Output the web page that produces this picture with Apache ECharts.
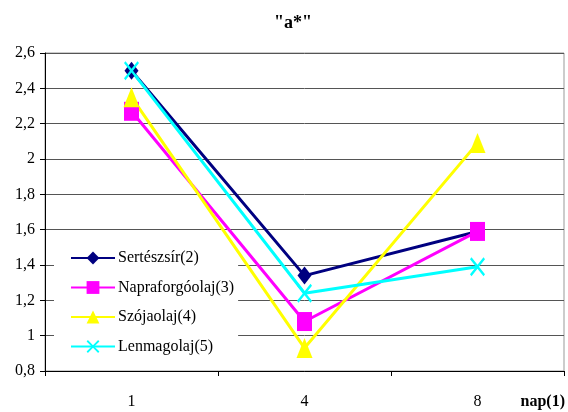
<!DOCTYPE html>
<html>
<head>
<meta charset="utf-8">
<script src="https://cdn.jsdelivr.net/npm/echarts@6/dist/echarts.min.js"></script>
<style>
html,body{margin:0;padding:0;background:#fff;}
#chart{width:568px;height:412px;}
</style>
</head>
<body>
<div id="chart"></div>
<script>
var titleText = '"a*"';
var categories = ['1', '4', '8'];
var xAxisName = 'nap(1)';
var seriesNames = ['Sertészsír(2)', 'Napraforgóolaj(3)', 'Szójaolaj(4)', 'Lenmagolaj(5)'];
var sertesszsir = [2.50, 1.34, 1.59];
var napraforgoolaj = [2.27, 1.08, 1.59];
var szojaolaj = [2.35, 0.93, 2.09];
var lenmagolaj = [2.50, 1.24, 1.39];
var yMin = 0.8, yMax = 2.6, yStep = 0.2;

var FONT = 'Liberation Serif';
var crossPath = 'path://M0,1L1,0L5,4L9,0L10,1L6,5L10,9L9,10L5,6L1,10L0,9L4,5Z';

function mk(name, data, color, symbol, size) {
  return {
    name: name,
    type: 'line',
    data: data,
    symbol: symbol,
    symbolSize: size,
    showAllSymbol: true,
    z: 3,
    lineStyle: { color: color, width: 3 },
    itemStyle: { color: color, borderWidth: 0 },
    emphasis: { disabled: true },
    animation: false
  };
}

var chart = echarts.init(document.getElementById('chart'), null, { renderer: 'canvas' });
chart.setOption({
  backgroundColor: '#fff',
  animation: false,
  title: {
    text: titleText,
    left: 274,
    top: 14,
    padding: 0,
    textStyle: { fontFamily: FONT, fontSize: 18, fontWeight: 'bold', color: '#000' }
  },
  grid: {
    left: 45, right: 2, top: 53, bottom: 41,
    show: true, borderColor: '#999', borderWidth: 1, backgroundColor: 'transparent'
  },
  legend: {
    orient: 'vertical',
    left: 54,
    top: 242,
    z: 1,
    padding: [8, 4, 8, 16],
    backgroundColor: '#fff',
    itemWidth: 44,
    itemHeight: 16,
    itemGap: 13.5,
    textStyle: { fontFamily: FONT, fontSize: 16, color: '#000', padding: [0, 0, 0, -2] },
    data: seriesNames
  },
  xAxis: {
    type: 'category',
    data: categories,
    boundaryGap: true,
    name: xAxisName,
    nameLocation: 'end',
    nameGap: 1,
    nameTextStyle: { fontFamily: FONT, fontSize: 16, fontWeight: 'bold', color: '#000', align: 'right', verticalAlign: 'top', padding: [23, 0, 0, 0] },
    axisLine: { lineStyle: { color: '#000', width: 1 } },
    axisTick: { show: true, length: 5, lineStyle: { color: '#000' } },
    axisLabel: { fontFamily: FONT, fontSize: 16, color: '#000', margin: 23 },
    splitLine: { show: false }
  },
  yAxis: {
    type: 'value',
    min: yMin, max: yMax, interval: yStep,
    axisLine: { show: true, lineStyle: { color: '#000', width: 1 } },
    axisTick: { show: true, length: 5, lineStyle: { color: '#000' } },
    axisLabel: {
      fontFamily: FONT, fontSize: 16, color: '#000', margin: 10,
      formatter: function (v) { return String(Math.round(v * 10) / 10).replace('.', ','); }
    },
    splitLine: { show: true, lineStyle: { color: '#555', width: 1 } }
  },
  series: [
    mk(seriesNames[0], sertesszsir, '#000080', 'diamond', [14, 18]),
    mk(seriesNames[1], napraforgoolaj, '#FF00FF', 'rect', [15, 19]),
    mk(seriesNames[2], szojaolaj, '#FFFF00', 'triangle', [16, 20]),
    mk(seriesNames[3], lenmagolaj, '#00FFFF', crossPath, [15, 19])
  ]
});
</script>
</body>
</html>
